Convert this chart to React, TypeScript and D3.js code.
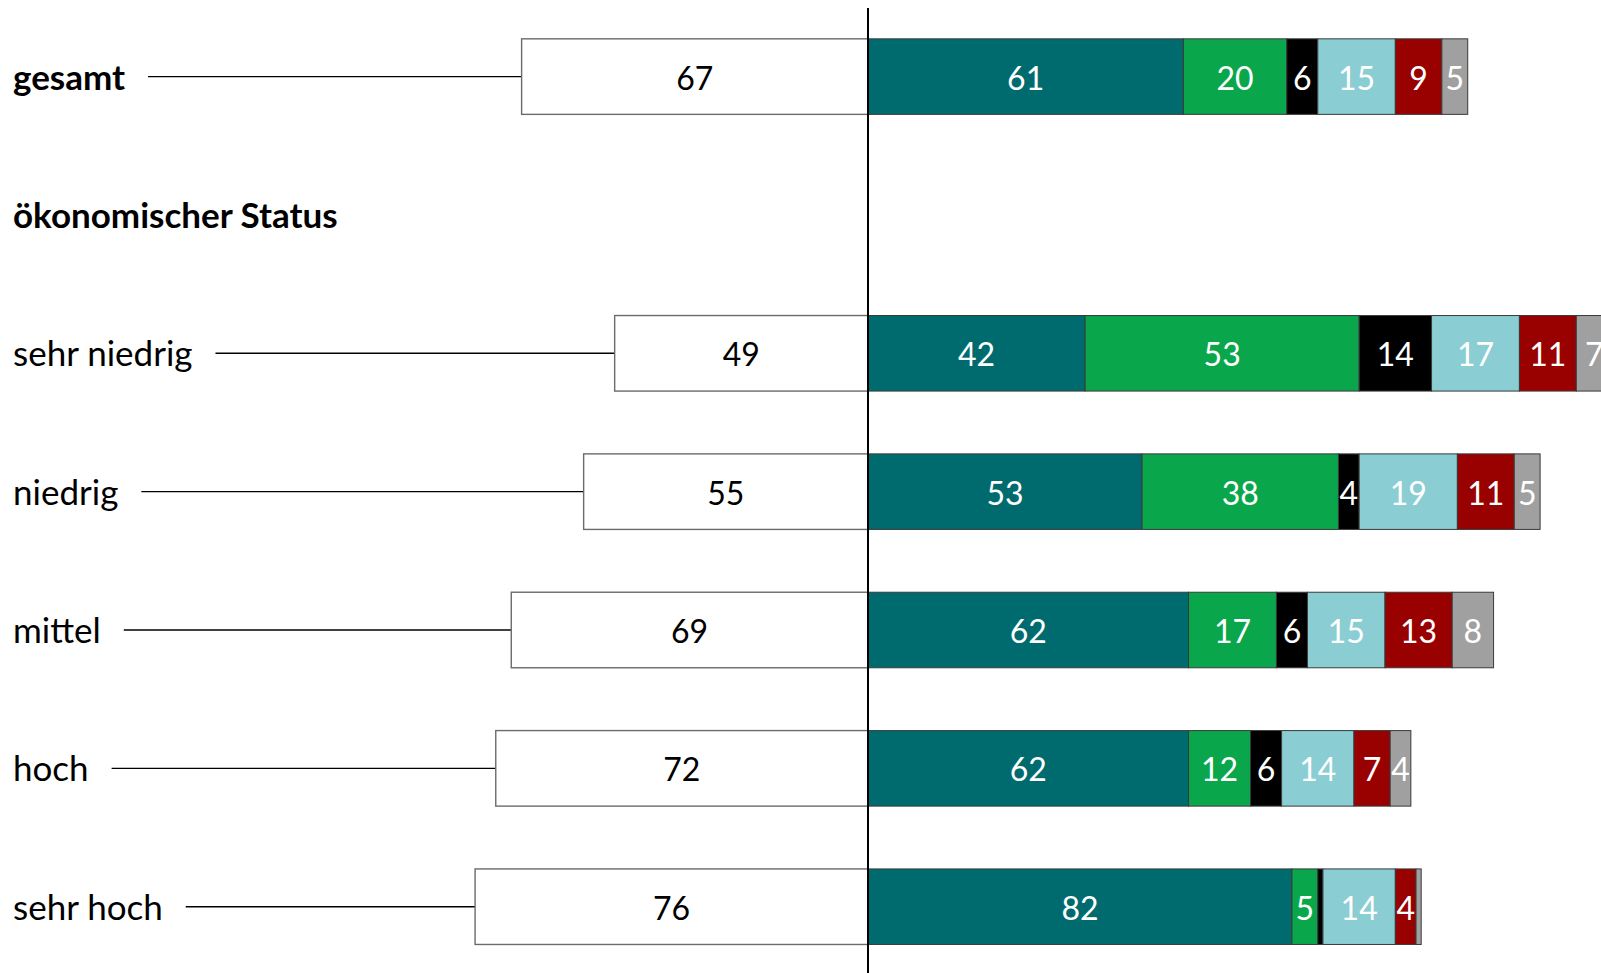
import React, { useEffect, useRef } from 'react'
import * as d3 from 'd3'

// rows top to bottom; the heading row has no bars
const rows = ['gesamt', 'ökonomischer Status', 'sehr niedrig', 'niedrig', 'mittel', 'hoch', 'sehr hoch']
const boldRows = ['gesamt', 'ökonomischer Status']

// white bar to the left of the axis
const leftValues = [67, null, 49, 55, 69, 72, 76]

// stacked segments to the right of the axis
const series1 = [61, null, 42, 53, 62, 62, 82]
const series2 = [20, null, 53, 38, 17, 12, 5]
const series3 = [6, null, 14, 4, 6, 6, 1]
const series4 = [15, null, 17, 19, 15, 14, 14]
const series5 = [9, null, 11, 11, 13, 7, 4]
const series6 = [5, null, 7, 5, 8, 4, 1]

const seriesKeys = ['s1', 's2', 's3', 's4', 's5', 's6']
const seriesColors = ['#006b6e', '#0aa64b', '#000000', '#8acdd2', '#990000', '#a0a0a0']

const FONT = "Lato, 'Open Sans', sans-serif"

const App = () => {
  const svgRef = useRef(null)
  const width = 1601
  const height = 973

  useEffect(() => {
    const draw = () => {
      const svg = d3.select(svgRef.current)
      svg.selectAll('*').remove()

      const zeroX = 868
      const unit = 517 // px per 100
      const xRight = d3.scaleLinear().domain([0, 100]).range([zeroX, zeroX + unit])
      const xLeft = d3.scaleLinear().domain([0, 100]).range([zeroX, zeroX - unit])

      const step = 138.35
      const y = d3
        .scaleBand()
        .domain(rows)
        .range([76.6 - step / 2, 76.6 - step / 2 + rows.length * step])
        .paddingInner(0.454)
        .paddingOuter(0.227)

      const table = rows
        .map((row, i) => ({
          row,
          s1: series1[i],
          s2: series2[i],
          s3: series3[i],
          s4: series4[i],
          s5: series5[i],
          s6: series6[i]
        }))
        .filter((d) => d.s1 !== null)

      const stacked = d3.stack().keys(seriesKeys)(table)

      // row labels + connector lines + left bars
      rows.forEach((row, i) => {
        const cy = y(row) + y.bandwidth() / 2
        const label = svg
          .append('text')
          .attr('x', 13)
          .attr('y', cy + 13)
          .style('font-family', FONT)
          .style('font-size', '35px')
          .style('font-weight', boldRows.includes(row) ? 700 : 400)
          .style('fill', '#000')
          .text(row)

        const v = leftValues[i]
        if (v === null) return
        const textW = label.node().getComputedTextLength()

        svg
          .append('line')
          .attr('x1', 13 + textW + 23)
          .attr('x2', xLeft(v))
          .attr('y1', cy)
          .attr('y2', cy)
          .attr('stroke', '#000')
          .attr('stroke-width', 1.4)

        svg
          .append('rect')
          .attr('x', xLeft(v))
          .attr('y', y(row))
          .attr('width', xLeft(0) - xLeft(v))
          .attr('height', y.bandwidth())
          .attr('fill', '#fff')
          .attr('stroke', '#6b6b6b')
          .attr('stroke-width', 1.4)

        svg
          .append('text')
          .attr('x', (xLeft(v) + xLeft(0)) / 2)
          .attr('y', cy + 13)
          .attr('text-anchor', 'middle')
          .style('font-family', FONT)
          .style('font-size', '32px')
          .style('fill', '#000')
          .text(v)
      })

      // stacked segments
      stacked.forEach((layer, k) => {
        const g = svg.append('g')
        g.selectAll('rect')
          .data(layer)
          .enter()
          .append('rect')
          .attr('x', (d) => xRight(d[0]))
          .attr('y', (d) => y(d.data.row))
          .attr('width', (d) => xRight(d[1]) - xRight(d[0]))
          .attr('height', y.bandwidth())
          .attr('fill', seriesColors[k])
          .attr('stroke', '#3a3a3a')
          .attr('stroke-width', 1)

        g.selectAll('text')
          .data(layer.filter((d) => d[1] - d[0] >= 2))
          .enter()
          .append('text')
          .attr('x', (d) => (xRight(d[0]) + xRight(d[1])) / 2)
          .attr('y', (d) => y(d.data.row) + y.bandwidth() / 2 + 13)
          .attr('text-anchor', 'middle')
          .style('font-family', FONT)
          .style('font-size', '32px')
          .style('fill', '#fff')
          .text((d) => d[1] - d[0])
      })

      // zero axis
      svg
        .append('line')
        .attr('x1', zeroX)
        .attr('x2', zeroX)
        .attr('y1', 8)
        .attr('y2', height)
        .attr('stroke', '#000')
        .attr('stroke-width', 2)
    }

    draw()
    if (document.fonts && document.fonts.ready) document.fonts.ready.then(draw)
  }, [])

  return (
    <svg
      ref={svgRef}
      width={width}
      height={height}
      style={{ position: 'absolute', left: 0, top: 0, background: '#fff' }}
    />
  )
}

export default App
